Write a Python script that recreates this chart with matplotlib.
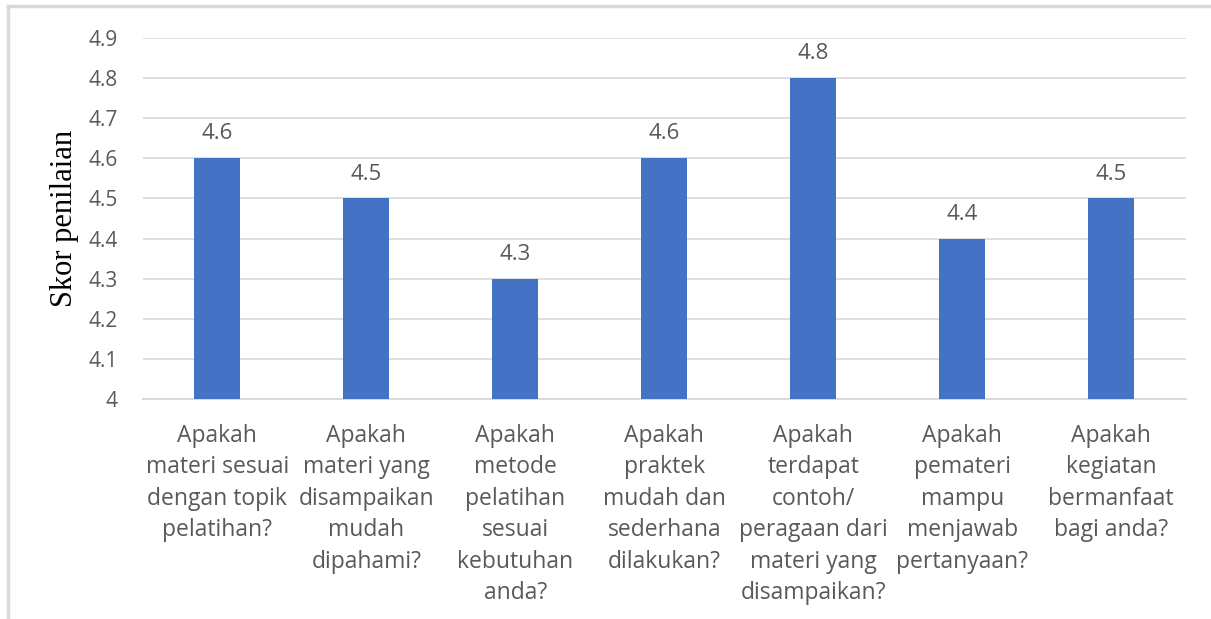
import matplotlib.pyplot as plt
from matplotlib.lines import Line2D

# data
labels = [
    "Apakah\nmateri sesuai\ndengan topik\npelatihan?",
    "Apakah\nmateri yang\ndisampaikan\nmudah\ndipahami?",
    "Apakah\nmetode\npelatihan\nsesuai\nkebutuhan\nanda?",
    "Apakah\npraktek\nmudah dan\nsederhana\ndilakukan?",
    "Apakah\nterdapat\ncontoh/\nperagaan dari\nmateri yang\ndisampaikan?",
    "Apakah\npemateri\nmampu\nmenjawab\npertanyaan?",
    "Apakah\nkegiatan\nbermanfaat\nbagi anda?",
]
scores = [4.6, 4.5, 4.3, 4.6, 4.8, 4.4, 4.5]
yticks = [4.0, 4.1, 4.2, 4.3, 4.4, 4.5, 4.6, 4.7, 4.8, 4.9]
ytick_labels = ["4", "4.1", "4.2", "4.3", "4.4", "4.5", "4.6", "4.7", "4.8", "4.9"]

bar_color = "#4472C4"
text_color = "#595959"
grid_color = "#D9D9D9"
sans = ["Open Sans", "DejaVu Sans"]

fig = plt.figure(figsize=(12.11, 6.19), dpi=100)
ax = fig.add_axes([0.118, 0.3554, 0.861, 0.5832])

x = list(range(len(scores)))
bars = ax.bar(x, [s - 4.0 for s in scores], bottom=4.0, width=0.31, color=bar_color, zorder=3)

ax.set_xlim(-0.5, len(scores) - 0.5)
ax.set_ylim(4.0, 4.9)
ax.set_yticks(yticks)
ax.set_yticklabels(ytick_labels, fontfamily=sans, fontsize=15, color=text_color)
ax.set_xticks(x)
ax.set_xticklabels(labels, fontfamily=sans, fontsize=16.5, color=text_color, linespacing=1.41, va="top")
ax.tick_params(axis="both", length=0)
ax.tick_params(axis="y", pad=18)
ax.tick_params(axis="x", pad=18)

ax.grid(axis="y", color=grid_color, linewidth=1.2, zorder=0)
for side in ["top", "right", "left"]:
    ax.spines[side].set_visible(False)
ax.spines["bottom"].set_color(grid_color)
ax.spines["bottom"].set_linewidth(1.5)

# value labels above bars
for xi, s in zip(x, scores):
    ax.annotate(f"{s:.1f}", (xi, s), xytext=(0, 10), textcoords="offset points",
                ha="center", va="bottom", fontfamily=sans, fontsize=16, color=text_color)

ax.set_ylabel("Skor penilaian", fontfamily="Liberation Serif", fontsize=22, color="black", labelpad=7)

# light frame on the top and left edges
fig.add_artist(Line2D([8 / 1211, 8 / 1211], [0, 1 - 6 / 619], transform=fig.transFigure,
                      color="#D9D9D9", linewidth=2.5))
fig.add_artist(Line2D([8 / 1211, 1], [1 - 6 / 619, 1 - 6 / 619], transform=fig.transFigure,
                      color="#D9D9D9", linewidth=2.5))

fig.savefig("out.png", dpi=100, facecolor="white")
